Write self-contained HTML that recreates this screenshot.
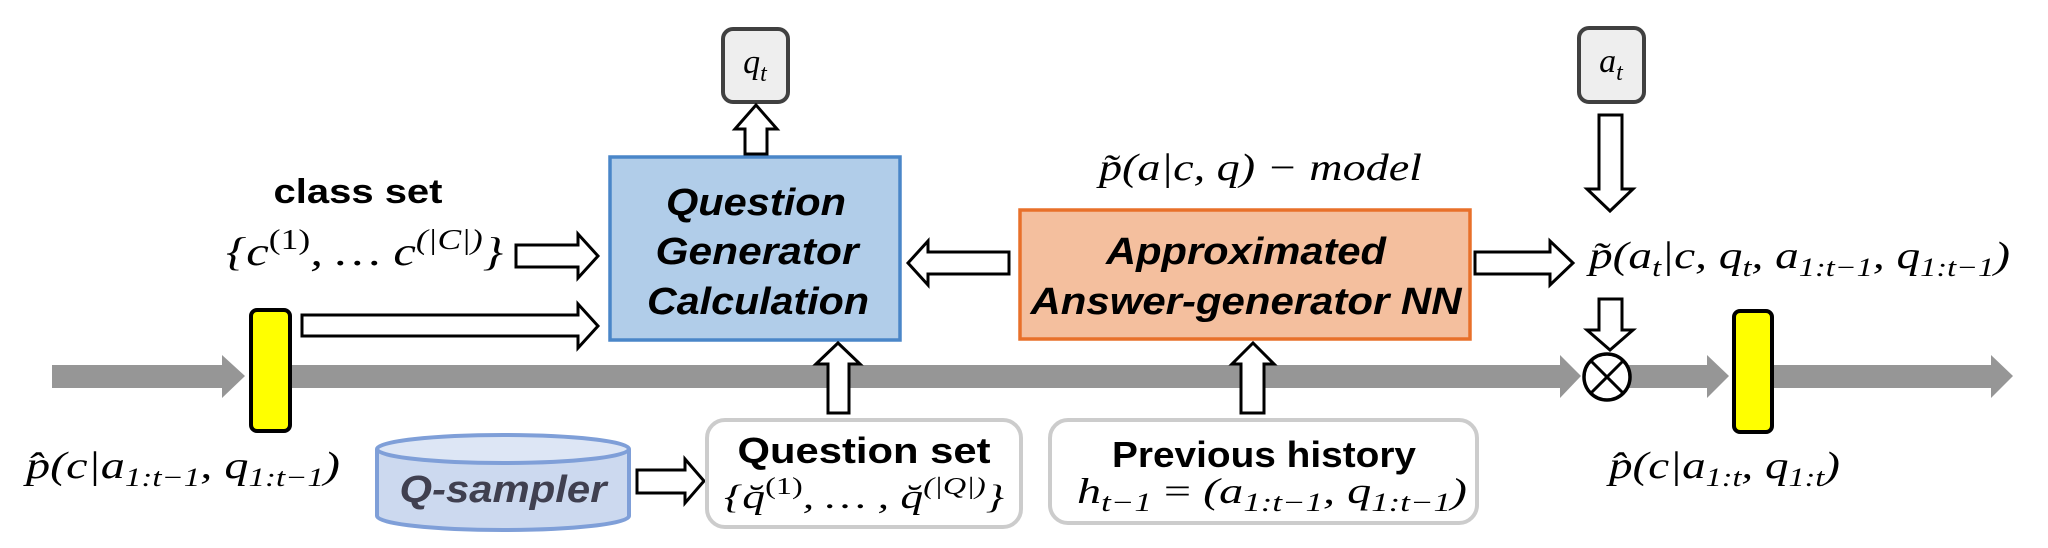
<!DOCTYPE html>
<html><head><meta charset="utf-8"><style>
html,body{margin:0;padding:0;background:#fff;}
svg{display:block;}
.lbl{font-family:"Liberation Sans",sans-serif;font-weight:bold;}
.bi{font-family:"Liberation Sans",sans-serif;font-weight:bold;font-style:italic;}
.m{font-family:"Liberation Serif",serif;font-style:italic;}
.ar{fill:#fff;stroke:#000;stroke-width:3;stroke-linejoin:miter;}
</style></head><body>
<svg width="2048" height="548" viewBox="0 0 2048 548" xmlns="http://www.w3.org/2000/svg">
<!-- main gray timeline -->
<g fill="#969696">
<rect x="52" y="365" width="172" height="23"/>
<polygon points="222,355 245,376 222,398"/>
<rect x="289" y="365" width="1273" height="23"/>
<polygon points="1560,355 1581,376 1560,398"/>
<rect x="1629" y="365" width="80" height="23"/>
<polygon points="1707,355 1729,376 1707,398"/>
<rect x="1770" y="365" width="223" height="23"/>
<polygon points="1991,355 2013,376 1991,398"/>
</g>
<!-- yellow bars -->
<rect x="251" y="310" width="39" height="121" rx="6" fill="#ffff00" stroke="#000" stroke-width="4"/>
<rect x="1734" y="311" width="38" height="121" rx="6" fill="#ffff00" stroke="#000" stroke-width="4"/>
<!-- otimes -->
<g>
<circle cx="1607" cy="377" r="23" fill="#fff" stroke="#000" stroke-width="3.5"/>
<line x1="1591" y1="361" x2="1623" y2="393" stroke="#000" stroke-width="3"/>
<line x1="1623" y1="361" x2="1591" y2="393" stroke="#000" stroke-width="3"/>
</g>
<!-- q_t box -->
<rect x="723" y="29" width="65" height="73" rx="10" fill="#eeeeee" stroke="#404040" stroke-width="4"/>
<text x="755" y="73" text-anchor="middle" class="m" font-size="34">q<tspan font-size="24" dy="8">t</tspan></text>
<!-- a_t box -->
<rect x="1579" y="28" width="65" height="74" rx="10" fill="#eeeeee" stroke="#404040" stroke-width="4"/>
<text x="1611" y="72" text-anchor="middle" class="m" font-size="34">a<tspan font-size="24" dy="8">t</tspan></text>
<!-- blue box -->
<rect x="610" y="157" width="290" height="183" fill="#b1cde9" stroke="#4a86c8" stroke-width="3.5"/>
<text x="756" y="215" text-anchor="middle" class="bi" font-size="38" textLength="180" lengthAdjust="spacingAndGlyphs">Question</text>
<text x="757" y="264" text-anchor="middle" class="bi" font-size="38" textLength="203" lengthAdjust="spacingAndGlyphs">Generator</text>
<text x="758" y="314" text-anchor="middle" class="bi" font-size="38" textLength="222" lengthAdjust="spacingAndGlyphs">Calculation</text>
<!-- orange box -->
<rect x="1020" y="210" width="450" height="129" fill="#f4bf9e" stroke="#e8702a" stroke-width="3.5"/>
<text x="1246" y="264" text-anchor="middle" class="bi" font-size="38" textLength="280" lengthAdjust="spacingAndGlyphs">Approximated</text>
<text x="1246" y="314" text-anchor="middle" class="bi" font-size="38" textLength="431" lengthAdjust="spacingAndGlyphs">Answer-generator NN</text>
<!-- arrows -->
<polygon class="ar" points="745,154 745,129 735,129 756,105 777,129 767,129 767,154"/>
<polygon class="ar" points="516,245 578,245 578,234 598,256 578,278 578,267 516,267"/>
<polygon class="ar" points="302,315 578,315 578,304 598,326 578,348 578,336 302,336"/>
<polygon class="ar" points="1009,252 928,252 928,241 908,263 928,285 928,274 1009,274"/>
<polygon class="ar" points="1475,252 1550,252 1550,241 1573,263 1550,285 1550,274 1475,274"/>
<polygon class="ar" points="637,470 685,470 685,459 704,481 685,503 685,493 637,493"/>
<polygon class="ar" points="828,413 828,364 816,364 838,343 860,364 849,364 849,413"/>
<polygon class="ar" points="1241,413 1241,364 1232,364 1253,343 1274,364 1264,364 1264,413"/>
<polygon class="ar" points="1599,115 1622,115 1622,189 1633,189 1610,211 1587,189 1599,189"/>
<polygon class="ar" points="1599,299 1622,299 1622,330 1633,330 1610,350 1587,330 1599,330"/>
<!-- class set -->
<text x="358" y="203" text-anchor="middle" class="lbl" font-size="34" textLength="169" lengthAdjust="spacingAndGlyphs">class set</text>
<text x="226" y="265" class="m" font-size="40" textLength="277" lengthAdjust="spacingAndGlyphs">{c<tspan font-size="28" font-style="normal" dy="-16">(1)</tspan><tspan dy="16">, … c</tspan><tspan font-size="28" dy="-16">(|C|)</tspan><tspan dy="16">}</tspan></text>
<!-- model label -->
<text x="1099" y="180" class="m" font-size="38" textLength="323" lengthAdjust="spacingAndGlyphs">p̃(a|c, q) − model</text>
<!-- output formula -->
<text x="1589" y="268" class="m" font-size="38" textLength="421" lengthAdjust="spacingAndGlyphs">p̃(a<tspan font-size="26" dy="8">t</tspan><tspan dy="-8">|c, q</tspan><tspan font-size="26" dy="8">t</tspan><tspan dy="-8">, a</tspan><tspan font-size="26" dy="8">1:t−1</tspan><tspan dy="-8">, q</tspan><tspan font-size="26" dy="8">1:t−1</tspan><tspan dy="-8">)</tspan></text>
<!-- posterior labels -->
<text x="26" y="478" class="m" font-size="38" textLength="314" lengthAdjust="spacingAndGlyphs">p̂(c|a<tspan font-size="26" dy="8">1:t−1</tspan><tspan dy="-8">, q</tspan><tspan font-size="26" dy="8">1:t−1</tspan><tspan dy="-8">)</tspan></text>
<text x="1609" y="478" class="m" font-size="38" textLength="231" lengthAdjust="spacingAndGlyphs">p̂(c|a<tspan font-size="26" dy="8">1:t</tspan><tspan dy="-8">, q</tspan><tspan font-size="26" dy="8">1:t</tspan><tspan dy="-8">)</tspan></text>
<!-- Q-sampler cylinder -->
<g>
<path d="M377,449 L377,516 A126,14 0 0 0 629,516 L629,449" fill="#ccd9ef" stroke="#7f9fd8" stroke-width="4"/>
<ellipse cx="503" cy="449" rx="126" ry="14" fill="#dde6f5" stroke="#7f9fd8" stroke-width="4"/>
</g>
<text x="503" y="502" text-anchor="middle" class="bi" font-size="38" fill="#404050" textLength="207" lengthAdjust="spacingAndGlyphs">Q-sampler</text>
<!-- Question set box -->
<rect x="707" y="420" width="314" height="107" rx="18" fill="#fff" stroke="#cccccc" stroke-width="4"/>
<text x="864" y="463" text-anchor="middle" class="lbl" font-size="36" textLength="253" lengthAdjust="spacingAndGlyphs">Question set</text>
<text x="724" y="508" class="m" font-size="34" textLength="280" lengthAdjust="spacingAndGlyphs">{q̆<tspan font-size="24" font-style="normal" dy="-14">(1)</tspan><tspan dy="14">, … , q̆</tspan><tspan font-size="24" dy="-14">(|Q|)</tspan><tspan dy="14">}</tspan></text>
<!-- Previous history box -->
<rect x="1050" y="420" width="427" height="103" rx="18" fill="#fff" stroke="#cccccc" stroke-width="4"/>
<text x="1264" y="467" text-anchor="middle" class="lbl" font-size="36" textLength="304" lengthAdjust="spacingAndGlyphs">Previous history</text>
<text x="1077" y="503" class="m" font-size="36" textLength="390" lengthAdjust="spacingAndGlyphs">h<tspan font-size="26" dy="8">t−1</tspan><tspan dy="-8" font-style="normal"> = </tspan><tspan>(a</tspan><tspan font-size="26" dy="8">1:t−1</tspan><tspan dy="-8">, q</tspan><tspan font-size="26" dy="8">1:t−1</tspan><tspan dy="-8">)</tspan></text>
</svg>
</body></html>
